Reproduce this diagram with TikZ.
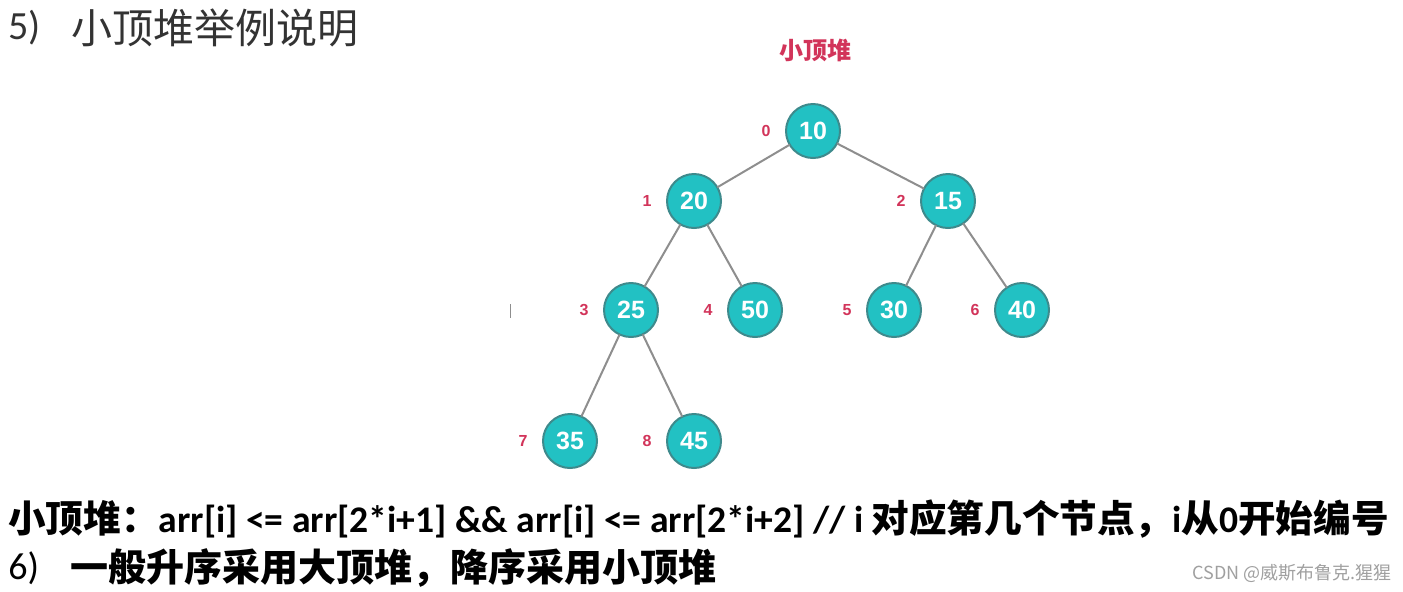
\documentclass[tikz,border=0pt]{standalone}
\usepackage{fontspec}
\usepackage{tikz}
\usepackage{tkz-graph}
\usetikzlibrary{positioning}
\setmainfont{Carlito}
\newfontfamily\cjk{Noto Sans CJK SC}
\newfontfamily\digits{Liberation Sans}
\definecolor{heapfill}{HTML}{22C1C3}
\definecolor{heapline}{HTML}{3E8A8C}
\definecolor{linkgray}{HTML}{8E8E8E}
\definecolor{idxred}{HTML}{D2345A}
\definecolor{titlegray}{HTML}{333333}
\definecolor{marktext}{HTML}{A0A0A0}

\begin{document}
\begin{tikzpicture}[x=0.5pt,y=-0.5pt,
    idx/.style={inner sep=0pt, text=idxred, font=\digits\bfseries\fontsize{8}{8}\selectfont},
    note/.style={inner sep=0pt, anchor=west}]
    \fill[white] (0,0) rectangle (1403,591);
    \useasboundingbox (0,0) rectangle (1403,591);
                \GraphInit[vstyle=Normal]
                \tikzset{VertexStyle/.style={circle, draw=heapline, fill=heapfill, line width=1pt,
                    minimum size=27pt, inner sep=0pt, text=white,
                    font=\digits\bfseries\fontsize{12.5}{12.5}\selectfont},
                  EdgeStyle/.style={draw=linkgray, line width=1pt}}
                \Vertex[x=813,y=131,L=10]{v0}
                \Vertex[x=694,y=201,L=20]{v1}
                \Vertex[x=948,y=201,L=15]{v2}
                \Vertex[x=631,y=310,L=25]{v3}
                \Vertex[x=755,y=310,L=50]{v4}
                \Vertex[x=894,y=310,L=30]{v5}
                \Vertex[x=1022,y=310,L=40]{v6}
                \Vertex[x=570,y=441,L=35]{v7}
                \Vertex[x=694,y=441,L=45]{v8}
                \Edge(v0)(v1)
                \Edge(v0)(v2)
                \Edge(v1)(v3)
                \Edge(v1)(v4)
                \Edge(v2)(v5)
                \Edge(v2)(v6)
                \Edge(v3)(v7)
                \Edge(v3)(v8)
                % array indices
                \foreach \i in {0,...,8}
                  \node[idx, left=7.5pt of v\i] (i\i) {\i};
                % texts
                \node[text=idxred, font=\cjk\bfseries\fontsize{12}{12}\selectfont] (heapname) at (815,50) {小顶堆};
                \node[note, text=titlegray, font=\fontsize{20}{20}\selectfont] (num5) at (8,28) {5)};
                \node[note, text=titlegray, font=\cjk\fontsize{20.5}{20.5}\selectfont] (title) at (71,28) {小顶堆举例说明};
                \node[note, font=\bfseries\fontsize{18.8}{18.8}\selectfont] (rule) at (8,519)
                  {{\cjk 小顶堆：}arr[i] <= arr[2*i+1] \&\& arr[i] <= arr[2*i+2] // i {\cjk 对应第几个节点，}i{\cjk 从}0{\cjk 开始编号}};
                \node[note, font=\fontsize{19}{19}\selectfont] (num6) at (8,568) {6)};
                \node[note, font=\cjk\bfseries\fontsize{19}{19}\selectfont] (order) at (70,568) {一般升序采用大顶堆，降序采用小顶堆};
                \node[anchor=east, inner sep=0pt, text=marktext, font=\cjk\fontsize{9}{9}\selectfont] (mark) at (1392,573) {CSDN @威斯布鲁克.猩猩};
                \draw[linkgray] (510,304) -- (510,318);
            \end{tikzpicture}
\end{document}
